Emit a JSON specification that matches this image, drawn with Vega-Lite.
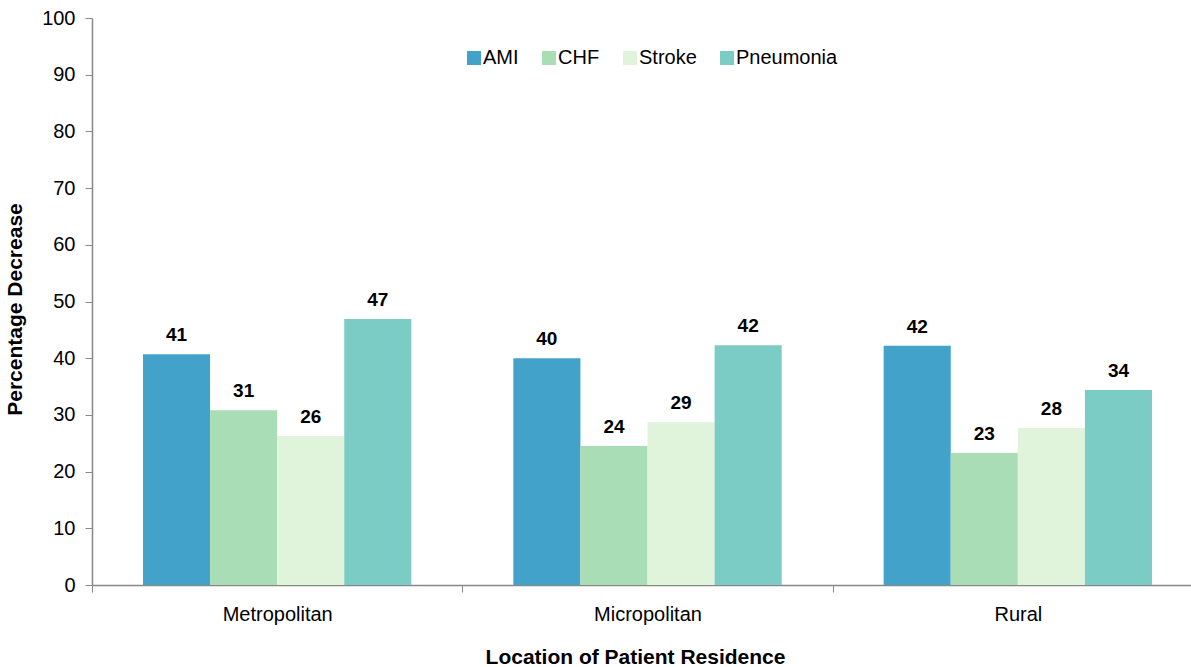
{
  "$schema": "https://vega.github.io/schema/vega-lite/v6.json",
  "autosize": {"type": "none"},
  "width": 1099,
  "height": 567,
  "padding": {"left": 92, "top": 18, "right": 0, "bottom": 82},
  "background": "white",
  "config": {
    "view": {"stroke": null},
    "font": "Liberation Sans",
    "axis": {"labelFont": "Liberation Sans", "titleFont": "Liberation Sans", "labelColor": "#000", "titleColor": "#000", "domainColor": "#888", "tickColor": "#888", "grid": false}
  },
  "data": {
    "values": [
      {"location": "Metropolitan", "condition": "AMI", "value": 40.7, "label": "41"},
      {"location": "Metropolitan", "condition": "CHF", "value": 30.8, "label": "31"},
      {"location": "Metropolitan", "condition": "Stroke", "value": 26.3, "label": "26"},
      {"location": "Metropolitan", "condition": "Pneumonia", "value": 46.9, "label": "47"},
      {"location": "Micropolitan", "condition": "AMI", "value": 40.0, "label": "40"},
      {"location": "Micropolitan", "condition": "CHF", "value": 24.5, "label": "24"},
      {"location": "Micropolitan", "condition": "Stroke", "value": 28.7, "label": "29"},
      {"location": "Micropolitan", "condition": "Pneumonia", "value": 42.3, "label": "42"},
      {"location": "Rural", "condition": "AMI", "value": 42.2, "label": "42"},
      {"location": "Rural", "condition": "CHF", "value": 23.3, "label": "23"},
      {"location": "Rural", "condition": "Stroke", "value": 27.7, "label": "28"},
      {"location": "Rural", "condition": "Pneumonia", "value": 34.4, "label": "34"}
    ]
  },
  "encoding": {
    "x": {
      "field": "location", "type": "nominal", "sort": ["Metropolitan", "Micropolitan", "Rural"],
      "scale": {"range": [0, 1111], "paddingInner": 0, "paddingOuter": 0},
      "axis": {"title": "Location of Patient Residence", "titleFontSize": 21, "titleFontWeight": "bold", "titlePadding": 22, "titleX": 543, "labelFontSize": 20, "labelAngle": 0, "labelPadding": 12, "tickBand": "extent", "tickSize": 7, "domainWidth": 1.5}
    },
    "xOffset": {
      "field": "condition", "type": "nominal", "sort": ["AMI", "CHF", "Stroke", "Pneumonia"],
      "scale": {"paddingInner": 0, "paddingOuter": 0.76}
    },
    "y": {
      "field": "value", "type": "quantitative",
      "scale": {"domain": [0, 100], "nice": false},
      "axis": {"title": "Percentage Decrease", "titleFontSize": 21, "titleFontWeight": "bold", "titlePadding": 16, "titleY": 291, "labelFontSize": 20, "labelPadding": 10, "values": [0,10,20,30,40,50,60,70,80,90,100], "tickSize": 7, "domainWidth": 1.5}
    }
  },
  "layer": [
    {
      "mark": {"type": "bar"},
      "encoding": {
        "color": {
          "field": "condition", "type": "nominal", "sort": ["AMI", "CHF", "Stroke", "Pneumonia"],
          "scale": {"domain": ["AMI", "CHF", "Stroke", "Pneumonia"], "range": ["#43a2ca", "#a8ddb5", "#e0f3db", "#7bccc4"]},
          "legend": {"title": null, "orient": "none", "legendX": 372, "legendY": 30, "direction": "horizontal", "symbolType": "square", "symbolSize": 196, "symbolStrokeWidth": 0, "labelFontSize": 20, "labelFont": "Liberation Sans", "labelColor": "#000", "labelOffset": -1, "columnPadding": 20}
        }
      }
    },
    {
      "mark": {"type": "text", "dy": -13, "baseline": "alphabetic", "fontSize": 19, "fontWeight": "bold", "color": "#000"},
      "encoding": {"text": {"field": "label"}}
    }
  ]
}
